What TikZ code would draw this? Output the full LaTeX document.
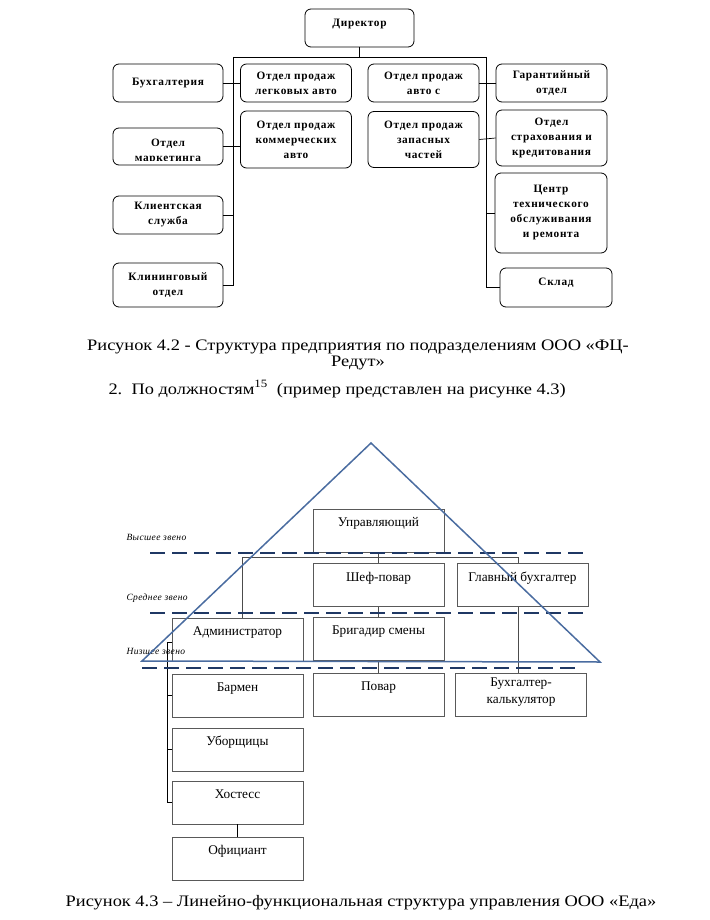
\documentclass[tikz,border=0pt]{standalone}
\usepackage{fontspec}
\setmainfont{Liberation Serif}
\newfontfamily\deptfont[LetterSpace=6]{Liberation Serif}
\newfontfamily\lvlfont[LetterSpace=4]{Liberation Serif}
\newfontfamily\capfont[FakeStretch=1.15]{Liberation Serif}
\definecolor{trianglecol}{RGB}{74,108,160}
\definecolor{dashcol}{RGB}{31,56,100}
\begin{document}
\begin{tikzpicture}[x=1pt,y=-1pt,
    dept/.style={draw, line width=0.8pt, rounded corners=6pt, align=center, inner sep=1pt,
      font=\deptfont\bfseries\fontsize{11.3}{15}\selectfont},
    post/.style={draw=black!65, line width=0.7pt, minimum width=131pt, minimum height=43pt,
      inner sep=0pt, text depth=17pt, font=\fontsize{13.3}{17}\selectfont},
    link/.style={line width=0.7pt},
    lvl/.style={anchor=base west, font=\lvlfont\itshape\fontsize{9.5}{11}\selectfont},
    zveno/.style={dashcol, line width=2.6pt, dash pattern=on 15pt off 7pt},
    caption/.style={font=\capfont\fontsize{16}{16.5}\selectfont}]
  \useasboundingbox (0,0) rectangle (709,920);

  \node[dept, minimum width=109pt, minimum height=38pt, text depth=11pt] (dir) at (359.5,28) {Директор};
  \node[dept, minimum width=110pt, minimum height=38pt] (buh) at (168,83) {Бухгалтерия};
  \node[dept, minimum width=110pt, minimum height=37pt] (mark) at (168,146.5) {};
  \node[dept, minimum width=110pt, minimum height=38pt] (klient) at (168,215) {Клиентская\\служба};
  \node[dept, minimum width=110pt, minimum height=44pt] (klin) at (168,285) {Клининговый\\отдел};
  \node[dept, minimum width=111pt, minimum height=38pt] (legk) at (296,83) {Отдел продаж\\легковых авто};
  \node[dept, minimum width=111pt, minimum height=57pt] (komm) at (296,139.5) {Отдел продаж\\коммерческих\\авто};
  \node[dept, minimum width=111pt, minimum height=38pt] (avtos) at (423.5,83) {Отдел продаж\\авто с};
  \node[dept, minimum width=111pt, minimum height=56pt] (zapch) at (423.5,139.5) {Отдел продаж\\запасных\\частей};
  \node[dept, minimum width=111pt, minimum height=38pt] (garant) at (551.5,83) {Гарантийный\\отдел};
  \node[dept, minimum width=111pt, minimum height=56pt] (strah) at (551.5,138) {Отдел\\страхования и\\кредитования};
  \node[dept, minimum width=112pt, minimum height=80pt] (centr) at (551,213) {Центр\\технического\\обслуживания\\и ремонта};
  \node[dept, minimum width=112pt, minimum height=39pt, text depth=11pt] (sklad) at (556,287.5) {Склад};
  \begin{scope}
    \clip ([yshift=5pt]mark.south west) rectangle (mark.north east);
    \node[dept, draw=none] (markt) at (168,151) {Отдел\\маркетинга};
  \end{scope}

  \coordinate (busL) at (233,57);
  \coordinate (busR) at (486,57);
  \draw[link] (busL) -- (busR);
  \draw[link] (dir.south) -- (dir.south |- busL);
  \draw[link] (busL) |- (klin.east);
  \draw[link] (busR) |- (sklad.west);
  \draw[link] (buh.east) -- (legk.west);
  \draw[link] (mark.east) -- (mark.east -| komm.west);
  \draw[link] (klient.east) -- (klient.east -| busL);
  \draw[link] (avtos.east) -- (garant.west);
  \draw[link] (zapch.east) -- (strah.west);
  \draw[link] (centr.west -| busR) -- (centr.west);

  \node[caption, align=center] (cap1) at (358,355) {Рисунок 4.2 - Структура предприятия по подразделениям ООО «ФЦ-\\Редут»};
  \node[caption, anchor=base west] (punkt) at (105,394) {2.\ \ По должностям\textsuperscript{15}\ \ (пример представлен на рисунке 4.3)};

  \node[post] (upr) at (378.5,530.5) {Управляющий};
  \node[post] (shef) at (378.5,585) {Шеф-повар};
  \node[post] (glbuh) at (522.5,585) {Главный бухгалтер};
  \node[post] (admin) at (237.5,639.5) {Администратор};
  \node[post] (brig) at (378.5,639) {Бригадир смены};
  \node[post] (povar) at (378.5,695) {Повар};
  \node[post, align=center, text depth=8pt] (buhkalk) at (521,695) {Бухгалтер-\\калькулятор};
  \node[post] (barmen) at (237.5,695.5) {Бармен};
  \node[post] (uborsh) at (237.5,749.5) {Уборщицы};
  \node[post] (hostess) at (237.5,802.5) {Хостесс};
  \node[post] (oficiant) at (237.5,858.5) {Официант};

  \coordinate (hl) at (242,557);
  \coordinate (hr) at (518,557);
  \coordinate (trunk) at (167,642);
  \draw[link, black!70] (hl) -- (hr);
  \draw[link, black!70] (upr.south) -- (shef.north);
  \draw[link, black!70] (hl) -- (hl |- admin.north);
  \draw[link, black!70] (hr) -- (hr |- glbuh.north);
  \draw[link, black!70] (shef.south) -- (brig.north);
  \draw[link, black!70] (brig.south) -- (povar.north);
  \draw[link, black!70] (glbuh.south -| hr) -- (buhkalk.north -| hr);
  \draw[link] (trunk -| admin.west) -- (trunk) |- (hostess.west);
  \draw[link] (barmen.west -| trunk) -- (barmen.west);
  \draw[link] (uborsh.west -| trunk) -- (uborsh.west);
  \draw[link] (hostess.south) -- (oficiant.north);

  \node[lvl] (vys) at (123,540) {Высшее звено};
  \node[lvl] (sred) at (123,600) {Среднее звено};
  \node[lvl] (niz) at (123,654) {Низшее звено};
  \draw[zveno] (150,553) -- (587,553);
  \draw[zveno] (150,613) -- (587,613);
  \draw[zveno] (142,668) -- (578,668);

  \coordinate (apex) at (371,443);
  \coordinate (baseL) at (142,661);
  \coordinate (baseR) at (600,662);
  \draw[trianglecol, line width=1.5pt, line join=miter] (apex) -- (baseL) -- (baseR) -- cycle;

  \node[caption, anchor=base] (cap2) at (361,906) {Рисунок 4.3 – Линейно-функциональная структура управления ООО «Еда»};
\end{tikzpicture}
\end{document}
